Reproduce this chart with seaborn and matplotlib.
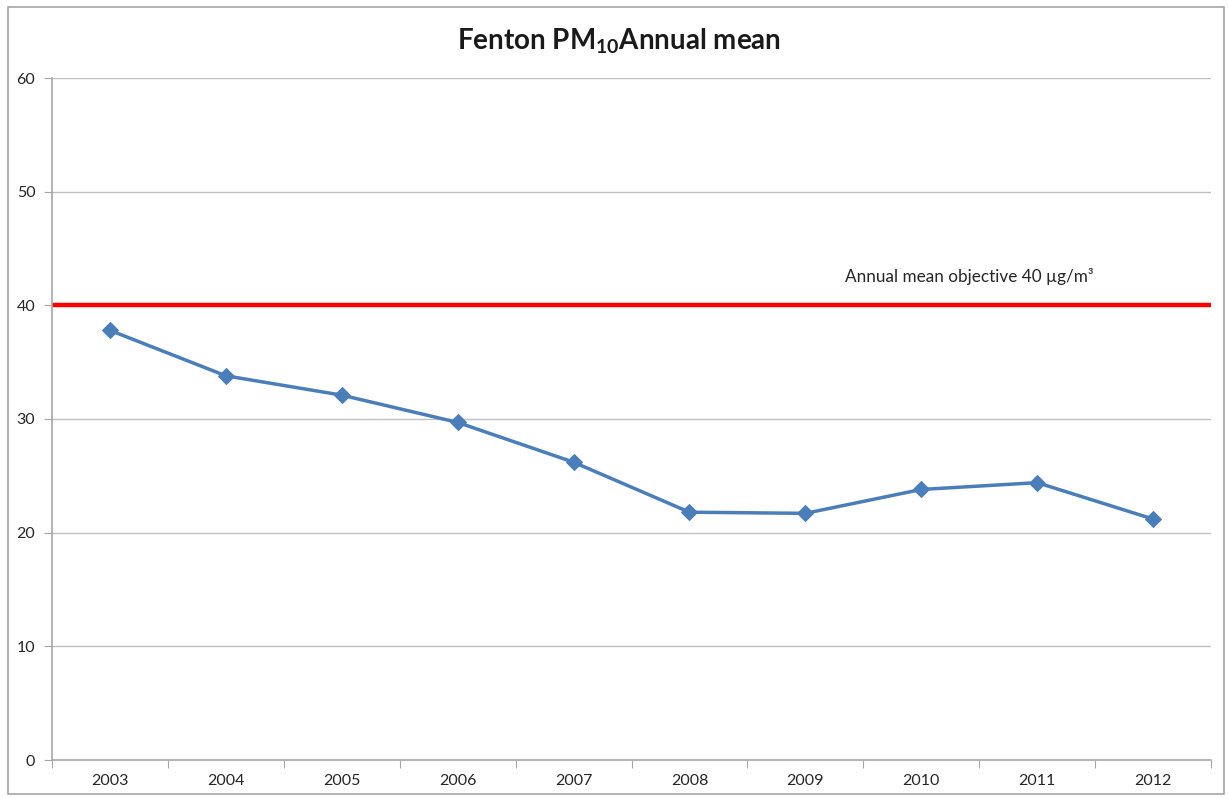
import numpy as np
import pandas as pd
import seaborn as sns
import matplotlib.pyplot as plt
from matplotlib.patches import Rectangle

sns.set_style("white")
plt.rcParams['font.family'] = ['Lato', 'DejaVu Sans']

years = ['2003', '2004', '2005', '2006', '2007', '2008', '2009', '2010', '2011', '2012']
pm10 = [37.8, 33.8, 32.1, 29.7, 26.2, 21.8, 21.7, 23.8, 24.4, 21.2]
objective = 40

df = pd.DataFrame({'year': years, 'pm10': pm10})
df['pos'] = np.arange(len(years))

fig = plt.figure(figsize=(12.28, 7.98), dpi=100)
ax = fig.add_axes([52/1228, 1-760/798, (1211-52)/1228, (760-78)/798])

# outer chart frame
fig.patches.append(Rectangle((8/1228, 4/798), 1216/1228, 787/798, transform=fig.transFigure,
                             fill=False, edgecolor='#a6a6a6', linewidth=1.2))

for v in range(10, 61, 10):
    ax.axhline(v, color='#c0c0c0', linewidth=1.0, zorder=0)

ax.axhline(objective, color='#ff0000', linewidth=3.2, zorder=2)
sns.lineplot(data=df, x='pos', y='pm10', marker='D', markersize=8, color='#4a7ebb',
             markeredgecolor='#4a7ebb', linewidth=2.5, ax=ax, zorder=3)

ax.set_xlim(-0.5, len(years) - 0.5)
ax.set_ylim(0, 60)
ax.set_yticks(range(0, 61, 10))
ax.set_xticks(np.arange(-0.5, len(years), 1.0))
ax.set_xticklabels([])
ax.set_xticks(df['pos'], minor=True)
ax.set_xticklabels(years, minor=True)
ax.tick_params(axis='x', which='major', length=6, color='#a6a6a6', direction='out', bottom=True)
ax.tick_params(axis='x', which='minor', length=0, pad=10, labelsize=11.5, labelcolor='#262626')
ax.tick_params(axis='y', length=6, color='#a6a6a6', direction='out', left=True, labelsize=11.5,
               labelcolor='#262626', pad=6)
ax.set_xlabel('')
ax.set_ylabel('')

for s in ['top', 'right']:
    ax.spines[s].set_visible(False)
for s in ['left', 'bottom']:
    ax.spines[s].set_color('#a6a6a6')
    ax.spines[s].set_linewidth(1.2)

ax.text(6.34, 42.5, 'Annual mean objective 40 µg/m³', fontsize=12.3, color='#262626', va='center')
fig.text(0.504, 0.948, r'Fenton PM$_{\mathregular{10}}$Annual mean', ha='center', va='center',
         fontsize=20, fontweight='bold', color='#1a1a1a')

fig.savefig('out.png', dpi=100)
